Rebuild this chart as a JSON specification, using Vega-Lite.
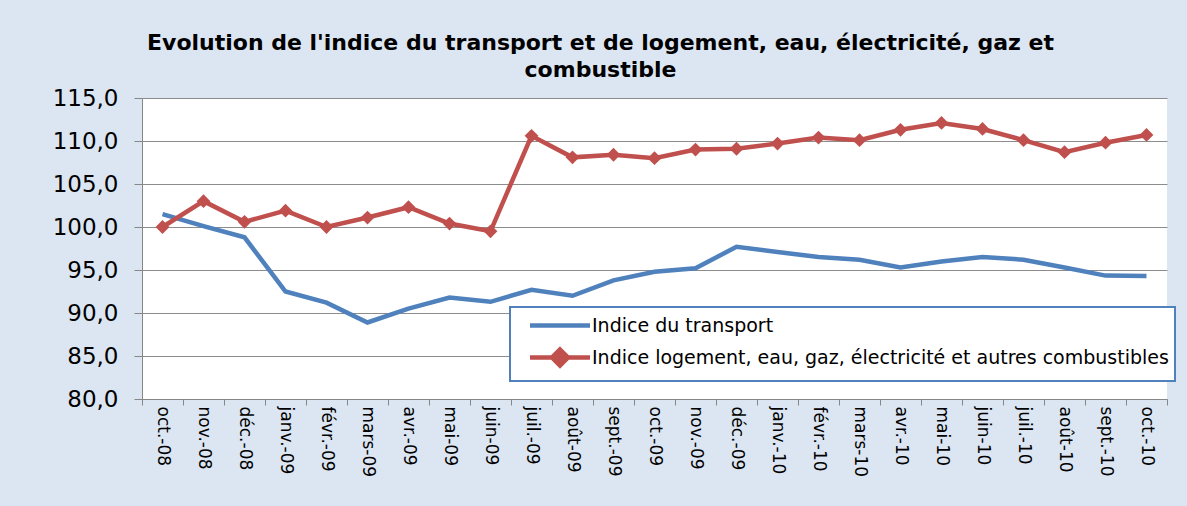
{
  "$schema": "https://vega.github.io/schema/vega-lite/v6.json",
  "autosize": {"type": "none"},
  "width": 1025,
  "height": 301,
  "padding": {"left": 142, "top": 98, "right": 20, "bottom": 107},
  "background": "#dce6f2",
  "title": {
    "text": ["Evolution de l'indice du transport et de logement, eau, électricité, gaz et", "combustible"],
    "font": "DejaVu Sans",
    "fontSize": 22,
    "fontWeight": "bold",
    "color": "#000000",
    "anchor": "middle",
    "frame": "group",
    "dx": -54,
    "offset": 5,
    "lineHeight": 27
  },
  "config": {
    "view": {"fill": "white", "stroke": null}
  },
  "data": {
    "values": [
      {"mois": "oct.-08", "serie": "Indice du transport", "valeur": 101.5},
      {"mois": "nov.-08", "serie": "Indice du transport", "valeur": 100.1},
      {"mois": "déc.-08", "serie": "Indice du transport", "valeur": 98.8},
      {"mois": "janv.-09", "serie": "Indice du transport", "valeur": 92.5},
      {"mois": "févr.-09", "serie": "Indice du transport", "valeur": 91.2},
      {"mois": "mars-09", "serie": "Indice du transport", "valeur": 88.9},
      {"mois": "avr.-09", "serie": "Indice du transport", "valeur": 90.5},
      {"mois": "mai-09", "serie": "Indice du transport", "valeur": 91.8},
      {"mois": "juin-09", "serie": "Indice du transport", "valeur": 91.3},
      {"mois": "juil.-09", "serie": "Indice du transport", "valeur": 92.7},
      {"mois": "août-09", "serie": "Indice du transport", "valeur": 92.0},
      {"mois": "sept.-09", "serie": "Indice du transport", "valeur": 93.8},
      {"mois": "oct.-09", "serie": "Indice du transport", "valeur": 94.8},
      {"mois": "nov.-09", "serie": "Indice du transport", "valeur": 95.2},
      {"mois": "déc.-09", "serie": "Indice du transport", "valeur": 97.7},
      {"mois": "janv.-10", "serie": "Indice du transport", "valeur": 97.1},
      {"mois": "févr.-10", "serie": "Indice du transport", "valeur": 96.5},
      {"mois": "mars-10", "serie": "Indice du transport", "valeur": 96.2},
      {"mois": "avr.-10", "serie": "Indice du transport", "valeur": 95.3},
      {"mois": "mai-10", "serie": "Indice du transport", "valeur": 96.0},
      {"mois": "juin-10", "serie": "Indice du transport", "valeur": 96.5},
      {"mois": "juil.-10", "serie": "Indice du transport", "valeur": 96.2},
      {"mois": "août-10", "serie": "Indice du transport", "valeur": 95.3},
      {"mois": "sept.-10", "serie": "Indice du transport", "valeur": 94.35},
      {"mois": "oct.-10", "serie": "Indice du transport", "valeur": 94.3},
      {"mois": "oct.-08", "serie": "Indice logement, eau, gaz, électricité et autres combustibles", "valeur": 100.0},
      {"mois": "nov.-08", "serie": "Indice logement, eau, gaz, électricité et autres combustibles", "valeur": 103.0},
      {"mois": "déc.-08", "serie": "Indice logement, eau, gaz, électricité et autres combustibles", "valeur": 100.6},
      {"mois": "janv.-09", "serie": "Indice logement, eau, gaz, électricité et autres combustibles", "valeur": 101.9},
      {"mois": "févr.-09", "serie": "Indice logement, eau, gaz, électricité et autres combustibles", "valeur": 100.0},
      {"mois": "mars-09", "serie": "Indice logement, eau, gaz, électricité et autres combustibles", "valeur": 101.1},
      {"mois": "avr.-09", "serie": "Indice logement, eau, gaz, électricité et autres combustibles", "valeur": 102.3},
      {"mois": "mai-09", "serie": "Indice logement, eau, gaz, électricité et autres combustibles", "valeur": 100.4},
      {"mois": "juin-09", "serie": "Indice logement, eau, gaz, électricité et autres combustibles", "valeur": 99.5},
      {"mois": "juil.-09", "serie": "Indice logement, eau, gaz, électricité et autres combustibles", "valeur": 110.6},
      {"mois": "août-09", "serie": "Indice logement, eau, gaz, électricité et autres combustibles", "valeur": 108.1},
      {"mois": "sept.-09", "serie": "Indice logement, eau, gaz, électricité et autres combustibles", "valeur": 108.4},
      {"mois": "oct.-09", "serie": "Indice logement, eau, gaz, électricité et autres combustibles", "valeur": 108.0},
      {"mois": "nov.-09", "serie": "Indice logement, eau, gaz, électricité et autres combustibles", "valeur": 109.0},
      {"mois": "déc.-09", "serie": "Indice logement, eau, gaz, électricité et autres combustibles", "valeur": 109.1},
      {"mois": "janv.-10", "serie": "Indice logement, eau, gaz, électricité et autres combustibles", "valeur": 109.7},
      {"mois": "févr.-10", "serie": "Indice logement, eau, gaz, électricité et autres combustibles", "valeur": 110.4},
      {"mois": "mars-10", "serie": "Indice logement, eau, gaz, électricité et autres combustibles", "valeur": 110.1},
      {"mois": "avr.-10", "serie": "Indice logement, eau, gaz, électricité et autres combustibles", "valeur": 111.3},
      {"mois": "mai-10", "serie": "Indice logement, eau, gaz, électricité et autres combustibles", "valeur": 112.1},
      {"mois": "juin-10", "serie": "Indice logement, eau, gaz, électricité et autres combustibles", "valeur": 111.4},
      {"mois": "juil.-10", "serie": "Indice logement, eau, gaz, électricité et autres combustibles", "valeur": 110.1},
      {"mois": "août-10", "serie": "Indice logement, eau, gaz, électricité et autres combustibles", "valeur": 108.7},
      {"mois": "sept.-10", "serie": "Indice logement, eau, gaz, électricité et autres combustibles", "valeur": 109.8},
      {"mois": "oct.-10", "serie": "Indice logement, eau, gaz, électricité et autres combustibles", "valeur": 110.7}
    ]
  },
  "encoding": {
    "x": {
      "field": "mois",
      "type": "ordinal",
      "sort": null,
      "scale": {"type": "band", "paddingInner": 0, "paddingOuter": 0},
      "axis": {
        "title": null,
        "labelAngle": 90,
        "labelFont": "DejaVu Sans",
        "labelFontSize": 17,
        "labelColor": "#000000",
        "labelPadding": 1,
        "tickBand": "extent",
        "tickSize": 6,
        "tickColor": "#868686",
        "domainColor": "#868686",
        "grid": false
      }
    },
    "y": {
      "field": "valeur",
      "type": "quantitative",
      "scale": {"domain": [80, 115], "nice": false, "zero": false},
      "axis": {
        "title": null,
        "values": [80, 85, 90, 95, 100, 105, 110, 115],
        "labelExpr": "replace(format(datum.value, '.1f'), '.', ',')",
        "labelFont": "DejaVu Sans",
        "labelFontSize": 23,
        "labelColor": "#000000",
        "labelPadding": 16,
        "tickSize": 8,
        "tickColor": "#868686",
        "domainColor": "#868686",
        "grid": true,
        "gridColor": "#8c8c8c",
        "gridWidth": 1
      }
    }
  },
  "layer": [
    {
      "mark": {"type": "line", "strokeWidth": 4.5},
      "encoding": {
        "color": {
          "field": "serie",
          "type": "nominal",
          "sort": null,
          "scale": {
            "domain": ["Indice du transport", "Indice logement, eau, gaz, électricité et autres combustibles"],
            "range": ["#4f81bd", "#c0504d"]
          },
          "legend": {
            "title": null,
            "orient": "none",
            "legendX": 368,
            "legendY": 209,
            "direction": "vertical",
            "padding": 6,
            "strokeColor": "#4f81bd",
            "fillColor": "white",
            "cornerRadius": 0,
            "symbolType": "stroke",
            "symbolSize": 400,
            "symbolStrokeWidth": 4.5,
            "labelFont": "DejaVu Sans",
            "labelFontSize": 19,
            "labelColor": "#000000",
            "labelOffset": 51,
            "labelLimit": 900,
            "rowPadding": 4,
            "encode": {
              "legend": {
                "update": {"strokeWidth": {"value": 2}}
              },
              "symbols": {
                "update": {
                  "x": {"value": 44},
                  "shape": {"signal": "datum.value === 'Indice du transport' ? 'M-3,0L3,0' : 'M-3,0L3,0M0,-0.8L0.8,0L0,0.8L-0.8,0Z'"},
                  "fill": {"scale": "color", "field": "value"},
                  "stroke": {"scale": "color", "field": "value"}
                }
              }
            }
          }
        }
      }
    },
    {
      "transform": [{"filter": "datum.serie !== 'Indice du transport'"}],
      "mark": {"type": "point", "shape": "diamond", "filled": true, "size": 190, "color": "#c0504d", "opacity": 1}
    }
  ]
}
